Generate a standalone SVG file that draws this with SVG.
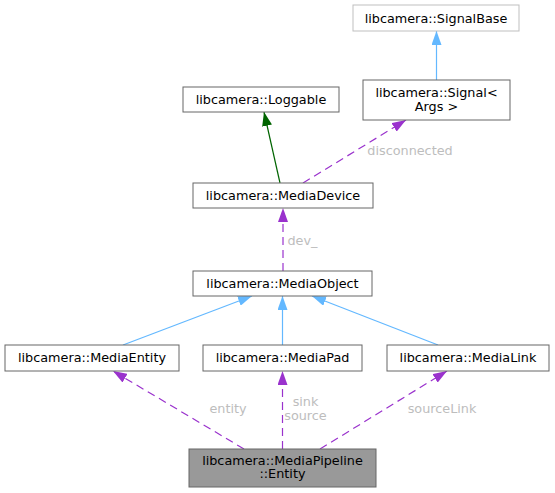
<svg xmlns="http://www.w3.org/2000/svg" width="555" height="493" viewBox="0 0 555 493">
<style>
  .n rect { fill: #ffffff; stroke: #666666; stroke-width: 1; }
  .n text, .lbl { font-family: "DejaVu Sans", sans-serif; font-size: 12.8px; text-anchor: middle; }
  .n text { fill: #000000; }
  .lbl { fill: #bdbdbd; }
  .blue { stroke: #63b8ff; stroke-width: 1.2; fill: none; marker-end: url(#ab); }
  .green { stroke: #006400; stroke-width: 1.2; fill: none; marker-end: url(#ag); }
  .purple { stroke: #9a32cd; stroke-width: 1.2; fill: none; stroke-dasharray: 8,5; marker-end: url(#ap); }
</style>
<defs>
  <marker id="ab" viewBox="0 0 14 10" refX="14" refY="5" markerWidth="14" markerHeight="10" markerUnits="userSpaceOnUse" orient="auto">
    <path d="M0,0 L14,5 L0,10 z" fill="#63b8ff"/>
  </marker>
  <marker id="ag" viewBox="0 0 14 10" refX="14" refY="5" markerWidth="14" markerHeight="10" markerUnits="userSpaceOnUse" orient="auto">
    <path d="M0,0 L14,5 L0,10 z" fill="#006400"/>
  </marker>
  <marker id="ap" viewBox="0 0 14 10" refX="14" refY="5" markerWidth="14" markerHeight="10" markerUnits="userSpaceOnUse" orient="auto">
    <path d="M0,0 L14,5 L0,10 z" fill="#9a32cd"/>
  </marker>
</defs>
<rect width="555" height="493" fill="#ffffff"/>
<g id="connectors">
  <path class="blue" d="M436.5,80 L436.5,31"/>
  <path class="green" d="M280,183 L264,112"/>
  <path class="purple" d="M303,183 L406,120"/>
  <text class="lbl" x="410" y="154.5">disconnected</text>
  <path class="purple" d="M283,271 L283,208"/>
  <text class="lbl" x="287.5" y="245" style="text-anchor:start">dev_</text>
  <path class="blue" d="M123,345 L252,296"/>
  <path class="blue" d="M282.5,345 L282.5,296"/>
  <path class="blue" d="M438,345 L312,296"/>
  <path class="purple" d="M244,449 L113,371"/>
  <text class="lbl" x="228" y="413">entity</text>
  <path class="purple" d="M282.5,449 L282.5,371"/>
  <text class="lbl" x="305.5" y="405.5">sink</text>
  <text class="lbl" x="305.5" y="420">source</text>
  <path class="purple" d="M320,449 L447,371"/>
  <text class="lbl" x="442" y="413">sourceLink</text>
</g>
<g id="SignalBase" class="n">
  <rect x="353" y="5" width="166" height="26" style="stroke:#bfbfbf"/>
  <text x="436" y="22.5">libcamera::SignalBase</text>
</g>
<g id="Signal" class="n">
  <rect x="363" y="80" width="147" height="40"/>
  <text x="436.5" y="97">libcamera::Signal&lt;</text>
  <text x="436.5" y="110.5">Args &gt;</text>
</g>
<g id="Loggable" class="n">
  <rect x="183" y="87" width="156" height="25"/>
  <text x="261" y="104">libcamera::Loggable</text>
</g>
<g id="MediaDevice" class="n">
  <rect x="193" y="183" width="180" height="25"/>
  <text x="283" y="200">libcamera::MediaDevice</text>
</g>
<g id="MediaObject" class="n">
  <rect x="193" y="271" width="179" height="25"/>
  <text x="282.5" y="288">libcamera::MediaObject</text>
</g>
<g id="MediaEntity" class="n">
  <rect x="5" y="345" width="174" height="26"/>
  <text x="92" y="362">libcamera::MediaEntity</text>
</g>
<g id="MediaPad" class="n">
  <rect x="203" y="345" width="159" height="26"/>
  <text x="282.5" y="362">libcamera::MediaPad</text>
</g>
<g id="MediaLink" class="n">
  <rect x="387" y="345" width="162" height="26"/>
  <text x="468" y="362">libcamera::MediaLink</text>
</g>
<g id="Entity" class="n">
  <rect x="189" y="449" width="187" height="38" style="fill:#999999"/>
  <text x="282.5" y="464.5">libcamera::MediaPipeline</text>
  <text x="282.5" y="478">::Entity</text>
</g>
</svg>
